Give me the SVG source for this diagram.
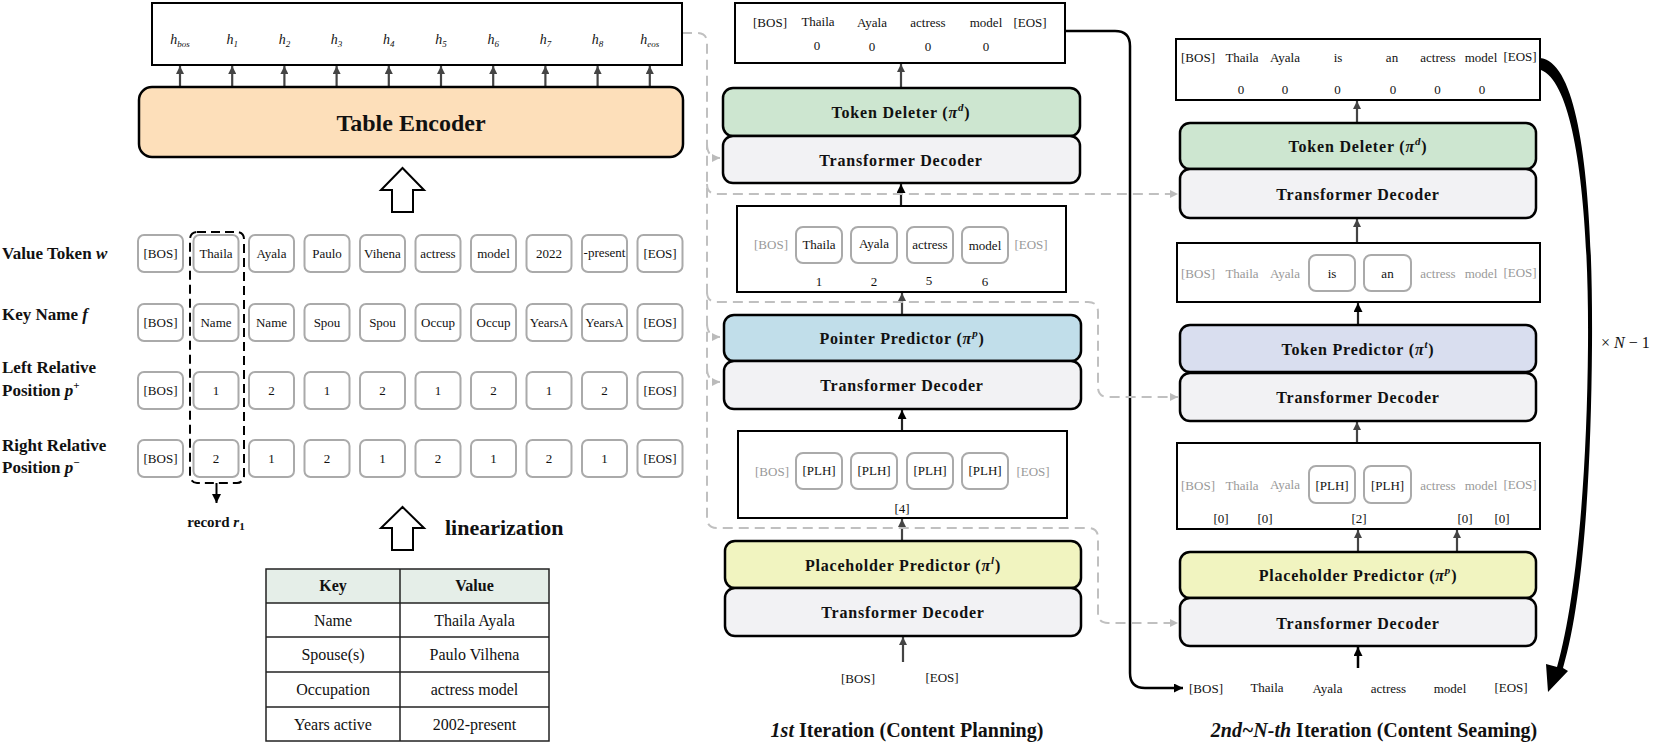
<svg xmlns="http://www.w3.org/2000/svg" width="1660" height="742" viewBox="0 0 1660 742">
<style>
.bg{fill:#fff}
.node{stroke:#000;stroke-width:2.5}
.out{fill:#fff;stroke:#000;stroke-width:2}
.tok{fill:#fff;stroke:#aaa;stroke-width:2}
.t{font-family:"Liberation Serif",serif;font-size:13px;text-anchor:middle;fill:#111}
.g{fill:#999}
.lbl{font-family:"Liberation Serif",serif;font-weight:bold;font-size:16px;text-anchor:middle;letter-spacing:0.8px;fill:#111}
.row{font-family:"Liberation Serif",serif;font-weight:bold;font-size:17px;fill:#111}
.h{font-family:"Liberation Serif",serif;font-style:italic;font-size:14px;text-anchor:middle;fill:#111}
.tb{font-family:"Liberation Serif",serif;font-size:16px;text-anchor:middle;fill:#111}
.title{font-family:"Liberation Serif",serif;font-weight:bold;font-size:20px;text-anchor:middle;fill:#111}
.dash{fill:none;stroke:#c0c0c0;stroke-width:2;stroke-dasharray:10 6}
.dk{stroke:#444;stroke-width:2.2;fill:none}
.bk{stroke:#000;stroke-width:2.5;fill:none}
.td{fill:#f2f2f4}
.del{fill:#cde6d0}
.ptr{fill:#c1deea}
.plh{fill:#f1f4c0}
.tpr{fill:#d9deef}
.enc{fill:#fddfba}
</style>
<defs>
<marker id="ag" viewBox="0 0 10 10" refX="10" refY="5" markerWidth="9" markerHeight="8" markerUnits="userSpaceOnUse" orient="auto"><path d="M0,0 L10,5 L0,10 z" fill="#bbb"/></marker>
<marker id="ad" viewBox="0 0 10 10" refX="10" refY="5" markerWidth="9" markerHeight="8" markerUnits="userSpaceOnUse" orient="auto"><path d="M0,0 L10,5 L0,10 z" fill="#444"/></marker>
<marker id="ab" viewBox="0 0 10 10" refX="10" refY="5" markerWidth="10" markerHeight="9" markerUnits="userSpaceOnUse" orient="auto"><path d="M0,0 L10,5 L0,10 z" fill="#000"/></marker>
</defs>
<rect class="bg" x="0" y="0" width="1660" height="742"/>

<!-- connectors -->
<g id="connectors">
  <!-- h arrows -->
  <g class="dk">
    <line x1="180" y1="87" x2="180" y2="66" marker-end="url(#ad)"/>
    <line x1="232.2" y1="87" x2="232.2" y2="66" marker-end="url(#ad)"/>
    <line x1="284.4" y1="87" x2="284.4" y2="66" marker-end="url(#ad)"/>
    <line x1="336.6" y1="87" x2="336.6" y2="66" marker-end="url(#ad)"/>
    <line x1="388.8" y1="87" x2="388.8" y2="66" marker-end="url(#ad)"/>
    <line x1="441" y1="87" x2="441" y2="66" marker-end="url(#ad)"/>
    <line x1="493.2" y1="87" x2="493.2" y2="66" marker-end="url(#ad)"/>
    <line x1="545.4" y1="87" x2="545.4" y2="66" marker-end="url(#ad)"/>
    <line x1="597.6" y1="87" x2="597.6" y2="66" marker-end="url(#ad)"/>
    <line x1="649.8" y1="87" x2="649.8" y2="66" marker-end="url(#ad)"/>
  </g>
  <!-- hollow arrows -->
  <polygon points="402.5,168 381,190 392,190 392,212 413,212 413,190 424,190" fill="#fff" stroke="#000" stroke-width="2"/>
  <polygon points="402.5,507 381,528 392,528 392,550 413,550 413,528 424,528" fill="#fff" stroke="#000" stroke-width="2"/>
  <!-- record arrow -->
  <line x1="216.5" y1="483" x2="216.5" y2="503" stroke="#000" stroke-width="2" marker-end="url(#ab)"/>
  <!-- middle column arrows -->
  <g class="dk">
    <line x1="901" y1="88" x2="901" y2="64" marker-end="url(#ad)"/>
    <line x1="901" y1="206" x2="901" y2="184" marker-end="url(#ab)" stroke="#222"/>
    <line x1="902" y1="315" x2="902" y2="293" marker-end="url(#ad)"/>
    <line x1="902" y1="431" x2="902" y2="410" marker-end="url(#ab)" stroke="#222"/>
    <line x1="902" y1="541" x2="902" y2="519" marker-end="url(#ad)"/>
    <line x1="903" y1="662" x2="903" y2="637" marker-end="url(#ad)"/>
  </g>
  <!-- right column arrows -->
  <g class="dk">
    <line x1="1357" y1="123" x2="1357" y2="101" marker-end="url(#ad)"/>
    <line x1="1357" y1="243" x2="1357" y2="219" marker-end="url(#ad)"/>
    <line x1="1358" y1="325" x2="1358" y2="303" marker-end="url(#ab)" stroke="#222"/>
    <line x1="1357" y1="443" x2="1357" y2="422" marker-end="url(#ad)"/>
    <line x1="1358" y1="552" x2="1358" y2="530" marker-end="url(#ad)"/>
    <line x1="1457" y1="552" x2="1457" y2="530" marker-end="url(#ad)"/>
    <line x1="1358" y1="668" x2="1358" y2="647" marker-end="url(#ab)" stroke="#000" stroke-width="2.5"/>
  </g>
  <!-- black loop connector -->
  <path class="bk" d="M1065 31 H1115 Q1130 31 1130 46 V673 Q1130 688 1145 688 H1183" marker-end="url(#ab)"/>
  <!-- dashed gray connectors -->
  <path class="dash" d="M682 33 H697 Q707 33 707 43 V518 Q707 528 717 528 H1088 Q1098 528 1098 538 V613 Q1098 623 1108 623 H1178" marker-end="url(#ag)"/>
  <path class="dash" d="M707 144 Q707 158 720 158" stroke-dasharray="none" marker-end="url(#ag)"/>
  <path class="dash" d="M707 184 Q707 194 717 194 H1178" marker-end="url(#ag)"/>
  <path class="dash" d="M707 292 Q707 302 717 302 H1088 Q1098 302 1098 312 V387 Q1098 397 1108 397 H1178" marker-end="url(#ag)"/>
  <path class="dash" d="M707 323 Q707 337 720 337" stroke-dasharray="none" marker-end="url(#ag)"/>
  <path class="dash" d="M707 368 Q707 382 720 382" stroke-dasharray="none" marker-end="url(#ag)"/>
  <!-- repeat arrow -->
  <path d="M1540 58 C1582 62 1593 200 1592 345 C1591 480 1583 600 1563 668 L1568 671 L1548 692 L1546 664 L1557 667 C1576 600 1587 480 1588 345 C1589 210 1576 84 1541 70 Z" fill="#000"/>
</g>

<!-- LEFT: hidden states -->
<g id="hidden-states">
  <rect class="out" x="152" y="3" width="530" height="62"/>
  <text class="h" x="180" y="44">h<tspan font-size="9" dy="3">bos</tspan></text>
  <text class="h" x="232.2" y="44">h<tspan font-size="9" dy="3">1</tspan></text>
  <text class="h" x="284.4" y="44">h<tspan font-size="9" dy="3">2</tspan></text>
  <text class="h" x="336.6" y="44">h<tspan font-size="9" dy="3">3</tspan></text>
  <text class="h" x="388.8" y="44">h<tspan font-size="9" dy="3">4</tspan></text>
  <text class="h" x="441" y="44">h<tspan font-size="9" dy="3">5</tspan></text>
  <text class="h" x="493.2" y="44">h<tspan font-size="9" dy="3">6</tspan></text>
  <text class="h" x="545.4" y="44">h<tspan font-size="9" dy="3">7</tspan></text>
  <text class="h" x="597.6" y="44">h<tspan font-size="9" dy="3">8</tspan></text>
  <text class="h" x="649.8" y="44">h<tspan font-size="9" dy="3">eos</tspan></text>
</g>

<g id="table-encoder">
  <rect class="node enc" x="139" y="87" width="544" height="70" rx="13"/>
  <text x="411" y="131" font-family="Liberation Serif, serif" font-weight="bold" font-size="24" text-anchor="middle" fill="#111">Table Encoder</text>
</g>

<!-- row labels -->
<g id="row-labels" class="row">
  <text x="2" y="259">Value Token <tspan font-style="italic">w</tspan></text>
  <text x="2" y="320">Key Name <tspan font-style="italic">f</tspan></text>
  <text x="2" y="373">Left Relative</text>
  <text x="2" y="396">Position <tspan font-style="italic">p</tspan><tspan font-size="11" dy="-7">+</tspan></text>
  <text x="2" y="451">Right Relative</text>
  <text x="2" y="473">Position <tspan font-style="italic">p</tspan><tspan font-size="11" dy="-7">−</tspan></text>
</g>

<!-- token grid -->
<g id="value-tokens">
  <rect class="tok" x="138" y="235" width="45" height="37" rx="6"/><text class="t" x="160.5" y="258">[BOS]</text>
  <rect class="tok" x="193.5" y="235" width="45" height="37" rx="6"/><text class="t" x="216" y="258">Thaila</text>
  <rect class="tok" x="249" y="235" width="45" height="37" rx="6"/><text class="t" x="271.5" y="258">Ayala</text>
  <rect class="tok" x="304.5" y="235" width="45" height="37" rx="6"/><text class="t" x="327" y="258">Paulo</text>
  <rect class="tok" x="360" y="235" width="45" height="37" rx="6"/><text class="t" x="382.5" y="258">Vihena</text>
  <rect class="tok" x="415.5" y="235" width="45" height="37" rx="6"/><text class="t" x="438" y="258">actress</text>
  <rect class="tok" x="471" y="235" width="45" height="37" rx="6"/><text class="t" x="493.5" y="258">model</text>
  <rect class="tok" x="526.5" y="235" width="45" height="37" rx="6"/><text class="t" x="549" y="258">2022</text>
  <rect class="tok" x="582" y="235" width="45" height="37" rx="6"/><text class="t" x="604.5" y="257">-present</text>
  <rect class="tok" x="637.5" y="235" width="45" height="37" rx="6"/><text class="t" x="660" y="258">[EOS]</text>
</g>
<g id="key-names">
  <rect class="tok" x="138" y="304" width="45" height="37" rx="6"/><text class="t" x="160.5" y="327">[BOS]</text>
  <rect class="tok" x="193.5" y="304" width="45" height="37" rx="6"/><text class="t" x="216" y="327">Name</text>
  <rect class="tok" x="249" y="304" width="45" height="37" rx="6"/><text class="t" x="271.5" y="327">Name</text>
  <rect class="tok" x="304.5" y="304" width="45" height="37" rx="6"/><text class="t" x="327" y="327">Spou</text>
  <rect class="tok" x="360" y="304" width="45" height="37" rx="6"/><text class="t" x="382.5" y="327">Spou</text>
  <rect class="tok" x="415.5" y="304" width="45" height="37" rx="6"/><text class="t" x="438" y="327">Occup</text>
  <rect class="tok" x="471" y="304" width="45" height="37" rx="6"/><text class="t" x="493.5" y="327">Occup</text>
  <rect class="tok" x="526.5" y="304" width="45" height="37" rx="6"/><text class="t" x="549" y="327">YearsA</text>
  <rect class="tok" x="582" y="304" width="45" height="37" rx="6"/><text class="t" x="604.5" y="327">YearsA</text>
  <rect class="tok" x="637.5" y="304" width="45" height="37" rx="6"/><text class="t" x="660" y="327">[EOS]</text>
</g>
<g id="left-positions">
  <rect class="tok" x="138" y="372" width="45" height="37" rx="6"/><text class="t" x="160.5" y="395">[BOS]</text>
  <rect class="tok" x="193.5" y="372" width="45" height="37" rx="6"/><text class="t" x="216" y="395">1</text>
  <rect class="tok" x="249" y="372" width="45" height="37" rx="6"/><text class="t" x="271.5" y="395">2</text>
  <rect class="tok" x="304.5" y="372" width="45" height="37" rx="6"/><text class="t" x="327" y="395">1</text>
  <rect class="tok" x="360" y="372" width="45" height="37" rx="6"/><text class="t" x="382.5" y="395">2</text>
  <rect class="tok" x="415.5" y="372" width="45" height="37" rx="6"/><text class="t" x="438" y="395">1</text>
  <rect class="tok" x="471" y="372" width="45" height="37" rx="6"/><text class="t" x="493.5" y="395">2</text>
  <rect class="tok" x="526.5" y="372" width="45" height="37" rx="6"/><text class="t" x="549" y="395">1</text>
  <rect class="tok" x="582" y="372" width="45" height="37" rx="6"/><text class="t" x="604.5" y="395">2</text>
  <rect class="tok" x="637.5" y="372" width="45" height="37" rx="6"/><text class="t" x="660" y="395">[EOS]</text>
</g>
<g id="right-positions">
  <rect class="tok" x="138" y="440" width="45" height="37" rx="6"/><text class="t" x="160.5" y="463">[BOS]</text>
  <rect class="tok" x="193.5" y="440" width="45" height="37" rx="6"/><text class="t" x="216" y="463">2</text>
  <rect class="tok" x="249" y="440" width="45" height="37" rx="6"/><text class="t" x="271.5" y="463">1</text>
  <rect class="tok" x="304.5" y="440" width="45" height="37" rx="6"/><text class="t" x="327" y="463">2</text>
  <rect class="tok" x="360" y="440" width="45" height="37" rx="6"/><text class="t" x="382.5" y="463">1</text>
  <rect class="tok" x="415.5" y="440" width="45" height="37" rx="6"/><text class="t" x="438" y="463">2</text>
  <rect class="tok" x="471" y="440" width="45" height="37" rx="6"/><text class="t" x="493.5" y="463">1</text>
  <rect class="tok" x="526.5" y="440" width="45" height="37" rx="6"/><text class="t" x="549" y="463">2</text>
  <rect class="tok" x="582" y="440" width="45" height="37" rx="6"/><text class="t" x="604.5" y="463">1</text>
  <rect class="tok" x="637.5" y="440" width="45" height="37" rx="6"/><text class="t" x="660" y="463">[EOS]</text>
</g>

<g id="record-r1">
  <rect x="190" y="232" width="54" height="251" rx="7" fill="none" stroke="#000" stroke-width="2" stroke-dasharray="9 5"/>
  <text x="216" y="527" font-family="Liberation Serif, serif" font-weight="bold" font-size="15" text-anchor="middle" fill="#111">record <tspan font-style="italic">r</tspan><tspan font-size="11" dy="3">1</tspan></text>
</g>

<g id="linearization">
  <text x="445" y="535" font-family="Liberation Serif, serif" font-weight="bold" font-size="22" fill="#111">linearization</text>
</g>

<g id="infobox-table">
  <rect x="266" y="569" width="283" height="34" fill="#e5eee8"/>
  <rect x="266" y="569" width="283" height="172" fill="none" stroke="#222" stroke-width="1.5"/>
  <g stroke="#222" stroke-width="1.5">
    <line x1="400" y1="569" x2="400" y2="741"/>
    <line x1="266" y1="603" x2="549" y2="603"/>
    <line x1="266" y1="637" x2="549" y2="637"/>
    <line x1="266" y1="672" x2="549" y2="672"/>
    <line x1="266" y1="707" x2="549" y2="707"/>
  </g>
  <text class="tb" x="333" y="591" font-weight="bold">Key</text>
  <text class="tb" x="474.5" y="591" font-weight="bold">Value</text>
  <text class="tb" x="333" y="626">Name</text>
  <text class="tb" x="474.5" y="626">Thaila Ayala</text>
  <text class="tb" x="333" y="660">Spouse(s)</text>
  <text class="tb" x="474.5" y="660">Paulo Vilhena</text>
  <text class="tb" x="333" y="695">Occupation</text>
  <text class="tb" x="474.5" y="695">actress  model</text>
  <text class="tb" x="333" y="730">Years active</text>
  <text class="tb" x="474.5" y="730">2002-present</text>
</g>

<!-- MIDDLE COLUMN -->
<g id="mid-output">
  <rect class="out" x="735" y="3" width="330" height="60"/>
  <text class="t" x="770" y="27">[BOS]</text>
  <text class="t" x="818" y="26">Thaila</text>
  <text class="t" x="872" y="27">Ayala</text>
  <text class="t" x="928" y="27">actress</text>
  <text class="t" x="986" y="27">model</text>
  <text class="t" x="1030" y="27">[EOS]</text>
  <text class="t" x="817" y="50">0</text>
  <text class="t" x="872" y="51">0</text>
  <text class="t" x="928" y="51">0</text>
  <text class="t" x="986" y="51">0</text>
</g>
<g id="mid-token-deleter">
  <rect class="node del" x="723" y="88" width="357" height="48" rx="10"/>
  <text class="lbl" x="901" y="118">Token Deleter (<tspan font-style="italic">π</tspan><tspan font-style="italic" font-size="11" dy="-7">d</tspan><tspan dy="7">)</tspan></text>
</g>
<g id="mid-decoder-1">
  <rect class="node td" x="723" y="136" width="357" height="47" rx="10"/>
  <text class="lbl" x="901" y="166">Transformer Decoder</text>
</g>
<g id="mid-pointer-box">
  <rect class="out" x="737" y="206" width="329" height="86"/>
  <text class="t g" x="771" y="249">[BOS]</text>
  <rect class="tok" x="796" y="227" width="46" height="36" rx="7"/><text class="t" x="819" y="249">Thaila</text>
  <rect class="tok" x="851" y="227" width="46" height="36" rx="7"/><text class="t" x="874" y="248">Ayala</text>
  <rect class="tok" x="907" y="227" width="46" height="36" rx="7"/><text class="t" x="930" y="249">actress</text>
  <rect class="tok" x="962" y="227" width="46" height="36" rx="7"/><text class="t" x="985" y="250">model</text>
  <text class="t g" x="1031" y="249">[EOS]</text>
  <text class="t" x="819" y="286">1</text>
  <text class="t" x="874" y="286">2</text>
  <text class="t" x="929" y="285">5</text>
  <text class="t" x="985" y="286">6</text>
</g>
<g id="mid-pointer-predictor">
  <rect class="node ptr" x="724" y="315" width="357" height="46" rx="10"/>
  <text class="lbl" x="902" y="344">Pointer Predictor (<tspan font-style="italic">π</tspan><tspan font-style="italic" font-size="11" dy="-7">p</tspan><tspan dy="7">)</tspan></text>
</g>
<g id="mid-decoder-2">
  <rect class="node td" x="724" y="361" width="357" height="48" rx="10"/>
  <text class="lbl" x="902" y="391">Transformer Decoder</text>
</g>
<g id="mid-placeholder-box">
  <rect class="out" x="738" y="431" width="329" height="87"/>
  <text class="t g" x="772" y="476">[BOS]</text>
  <rect class="tok" x="796" y="453" width="46" height="36" rx="7"/><text class="t" x="819" y="475">[PLH]</text>
  <rect class="tok" x="851" y="453" width="46" height="36" rx="7"/><text class="t" x="874" y="475">[PLH]</text>
  <rect class="tok" x="907" y="453" width="46" height="36" rx="7"/><text class="t" x="930" y="475">[PLH]</text>
  <rect class="tok" x="962" y="453" width="46" height="36" rx="7"/><text class="t" x="985" y="475">[PLH]</text>
  <text class="t g" x="1033" y="476">[EOS]</text>
  <text class="t" x="902" y="513">[4]</text>
</g>
<g id="mid-placeholder-predictor">
  <rect class="node plh" x="725" y="541" width="356" height="47" rx="10"/>
  <text class="lbl" x="903" y="571">Placeholder Predictor (<tspan font-style="italic">π</tspan><tspan font-style="italic" font-size="11" dy="-7">l</tspan><tspan dy="7">)</tspan></text>
</g>
<g id="mid-decoder-3">
  <rect class="node td" x="725" y="588" width="356" height="48" rx="10"/>
  <text class="lbl" x="903" y="618">Transformer Decoder</text>
</g>
<g id="mid-input">
  <text class="t" x="858" y="683">[BOS]</text>
  <text class="t" x="942" y="682">[EOS]</text>
</g>
<text class="title" x="907" y="737"><tspan font-style="italic">1st</tspan> Iteration (Content Planning)</text>

<!-- RIGHT COLUMN -->
<g id="right-output">
  <rect class="out" x="1176" y="39" width="364" height="61"/>
  <text class="t" x="1198" y="62">[BOS]</text>
  <text class="t" x="1242" y="62">Thaila</text>
  <text class="t" x="1285" y="62">Ayala</text>
  <text class="t" x="1338" y="62">is</text>
  <text class="t" x="1392" y="62">an</text>
  <text class="t" x="1438" y="62">actress</text>
  <text class="t" x="1481" y="62">model</text>
  <text class="t" x="1520" y="61">[EOS]</text>
  <text class="t" x="1241" y="94">0</text>
  <text class="t" x="1285" y="94">0</text>
  <text class="t" x="1337.5" y="94">0</text>
  <text class="t" x="1393" y="94">0</text>
  <text class="t" x="1437.5" y="94">0</text>
  <text class="t" x="1482" y="94">0</text>
</g>
<g id="right-token-deleter">
  <rect class="node del" x="1180" y="123" width="356" height="46" rx="10"/>
  <text class="lbl" x="1358" y="152">Token Deleter (<tspan font-style="italic">π</tspan><tspan font-style="italic" font-size="11" dy="-7">d</tspan><tspan dy="7">)</tspan></text>
</g>
<g id="right-decoder-1">
  <rect class="node td" x="1180" y="169" width="356" height="49" rx="10"/>
  <text class="lbl" x="1358" y="200">Transformer Decoder</text>
</g>
<g id="right-token-box">
  <rect class="out" x="1177" y="243" width="363" height="59"/>
  <text class="t g" x="1198" y="278">[BOS]</text>
  <text class="t g" x="1242" y="278">Thaila</text>
  <text class="t g" x="1285" y="278">Ayala</text>
  <rect class="tok" x="1309" y="255" width="46" height="36" rx="7"/><text class="t" x="1332" y="278">is</text>
  <rect class="tok" x="1364" y="255" width="47" height="36" rx="7"/><text class="t" x="1387.5" y="278">an</text>
  <text class="t g" x="1438" y="278">actress</text>
  <text class="t g" x="1481" y="278">model</text>
  <text class="t g" x="1520" y="277">[EOS]</text>
</g>
<g id="right-token-predictor">
  <rect class="node tpr" x="1180" y="325" width="356" height="47" rx="10"/>
  <text class="lbl" x="1358" y="355">Token Predictor (<tspan font-style="italic">π</tspan><tspan font-style="italic" font-size="11" dy="-7">t</tspan><tspan dy="7">)</tspan></text>
</g>
<g id="right-decoder-2">
  <rect class="node td" x="1180" y="373" width="356" height="48" rx="10"/>
  <text class="lbl" x="1358" y="403">Transformer Decoder</text>
</g>
<g id="right-placeholder-box">
  <rect class="out" x="1177" y="443" width="363" height="86"/>
  <text class="t g" x="1198" y="490">[BOS]</text>
  <text class="t g" x="1242" y="490">Thaila</text>
  <text class="t g" x="1285" y="489">Ayala</text>
  <rect class="tok" x="1309" y="466" width="46" height="37" rx="7"/><text class="t" x="1332" y="490">[PLH]</text>
  <rect class="tok" x="1364" y="466" width="47" height="37" rx="7"/><text class="t" x="1387.5" y="490">[PLH]</text>
  <text class="t g" x="1438" y="490">actress</text>
  <text class="t g" x="1481" y="490">model</text>
  <text class="t g" x="1520" y="489">[EOS]</text>
  <text class="t" x="1221" y="523">[0]</text>
  <text class="t" x="1265" y="523">[0]</text>
  <text class="t" x="1359" y="523">[2]</text>
  <text class="t" x="1465" y="523">[0]</text>
  <text class="t" x="1502" y="523">[0]</text>
</g>
<g id="right-placeholder-predictor">
  <rect class="node plh" x="1180" y="552" width="356" height="46" rx="10"/>
  <text class="lbl" x="1358" y="581">Placeholder Predictor (<tspan font-style="italic">π</tspan><tspan font-style="italic" font-size="11" dy="-7">p</tspan><tspan dy="7">)</tspan></text>
</g>
<g id="right-decoder-3">
  <rect class="node td" x="1180" y="598" width="356" height="48" rx="10"/>
  <text class="lbl" x="1358" y="629">Transformer Decoder</text>
</g>
<g id="right-input">
  <text class="t" x="1206" y="693">[BOS]</text>
  <text class="t" x="1267" y="692">Thaila</text>
  <text class="t" x="1327.5" y="693">Ayala</text>
  <text class="t" x="1388.5" y="693">actress</text>
  <text class="t" x="1450" y="693">model</text>
  <text class="t" x="1511" y="692">[EOS]</text>
</g>
<g id="repeat-label">
  <text x="1601" y="348" font-family="Liberation Serif, serif" font-size="16" fill="#111">× <tspan font-style="italic">N</tspan> − 1</text>
</g>
<text class="title" x="1374" y="737"><tspan font-style="italic">2nd~N-th</tspan> Iteration (Content Seaming)</text>
</svg>
